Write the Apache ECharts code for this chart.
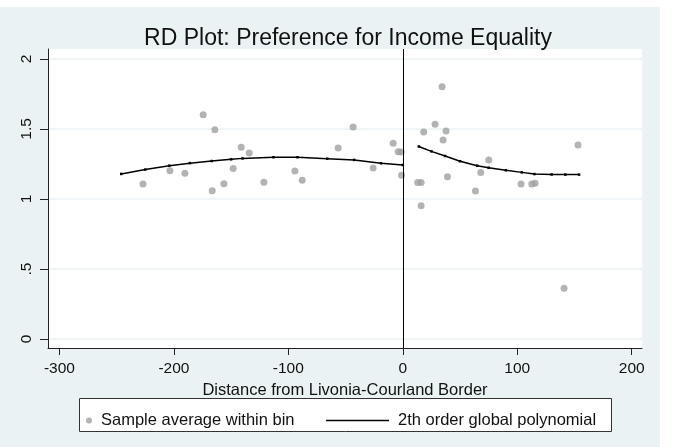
<!DOCTYPE html>
<html>
<head>
<meta charset="utf-8">
<script src="https://cdn.jsdelivr.net/npm/echarts@6/dist/echarts.min.js"></script>
<style>
html,body{margin:0;padding:0;background:#ffffff;}
#chart{width:675px;height:447px;}
</style>
</head>
<body>
<div id="chart"></div>
<script>
// Bin averages (distance, preference)
const binX = [-227, -203.5, -190.4, -174.4, -164.2, -166.5, -156.3, -148.2, -141.2, -134.2, -121.4, -94.3, -87.9, -56.5, -43.4, -25.9, -8.4, -4, -1.5, -1.1,
              13, 16, 16, 18.3, 28.2, 34.3, 37.8, 35.2, 39, 63.5, 68.1, 75.1, 103.3, 112.7, 115.6, 153.1, 140.9];
const binY = [1.107, 1.202, 1.183, 1.602, 1.495, 1.059, 1.109, 1.217, 1.369, 1.329, 1.119, 1.2, 1.133, 1.364, 1.514, 1.221, 1.398, 1.338, 1.335, 1.169,
              1.117, 1.117, 0.952, 1.479, 1.533, 1.802, 1.486, 1.421, 1.159, 1.057, 1.19, 1.279, 1.107, 1.107, 1.112, 1.386, 0.362];
// Fitted polynomial, left of border
const fitLeftX = [-246, -225, -204, -186, -167, -150, -140, -113, -92, -66, -42.5, -19, 0];
const fitLeftY = [1.179, 1.21, 1.238, 1.256, 1.271, 1.283, 1.29, 1.298, 1.298, 1.288, 1.279, 1.255, 1.243];
// Fitted polynomial, right of border
const fitRightX = [14, 25, 37, 50, 65, 75, 90, 104, 115, 130, 142, 154];
const fitRightY = [1.375, 1.34, 1.307, 1.27, 1.238, 1.223, 1.205, 1.19, 1.178, 1.175, 1.174, 1.174];
// Axis ticks
const xTicks = [-300, -200, -100, 0, 100, 200];
const yTicks = [0, 0.5, 1, 1.5, 2];
const yTickLabels = ['0', '.5', '1', '1.5', '2'];
const cutoff = 0;

const titleText = 'RD Plot: Preference for Income Equality';
const xName = 'Distance from Livonia-Courland Border';
const scatterName = 'Sample average within bin';
const lineName = '2th order global polynomial';

const zip = (a, b) => a.map((v, i) => [v, b[i]]);
const FONT = '"Liberation Sans", Arial, sans-serif';
const BG = '#EAF2F3';

const chart = echarts.init(document.getElementById('chart'), null, {renderer: 'canvas'});
chart.setOption({
  animation: false,
  backgroundColor: '#ffffff',
  textStyle: {fontFamily: FONT},
  graphic: [
    {type: 'rect', z: -100, silent: true, shape: {x: 0, y: 7, width: 660, height: 440}, style: {fill: BG}},
    {type: 'rect', z: 3, silent: true, shape: {x: 79.5, y: 398.5, width: 532, height: 33}, style: {fill: '#ffffff', stroke: '#333333', lineWidth: 1}}
  ],
  title: {
    text: titleText,
    left: 343,
    textAlign: 'center',
    top: 22,
    textStyle: {fontFamily: FONT, fontSize: 23, fontWeight: 'normal', color: '#111111'}
  },
  grid: {
    left: 48, right: 33, top: 49, bottom: 99,
    show: true, backgroundColor: '#ffffff', borderWidth: 0
  },
  legend: [
    {
      data: [{name: scatterName, icon: 'circle'}],
      left: 86, top: 412, padding: 0, itemWidth: 6, itemHeight: 6,
      textStyle: {fontFamily: FONT, fontSize: 16.5, color: '#111', padding: [0, 0, 0, 4]},
      selectedMode: false
    },
    {
      data: [{name: lineName, icon: 'rect'}],
      left: 326, top: 412, padding: 0, itemWidth: 63, itemHeight: 1.3,
      itemStyle: {color: '#000'},
      textStyle: {fontFamily: FONT, fontSize: 16.5, color: '#111', padding: [0, 0, 0, 4]},
      selectedMode: false
    }
  ],
  xAxis: {
    type: 'value', min: -310, max: 209,
    name: xName, nameLocation: 'middle', nameGap: 28,
    nameTextStyle: {fontFamily: FONT, fontSize: 16.5, color: '#111'},
    axisLine: {show: true, onZero: false, lineStyle: {color: '#222', width: 1}},
    axisTick: {show: true, length: 7, customValues: xTicks, lineStyle: {color: '#222'}},
    axisLabel: {customValues: xTicks, margin: 13, fontFamily: FONT, fontSize: 15.5, color: '#111'},
    splitLine: {show: false}
  },
  yAxis: {
    type: 'value', min: -0.064, max: 2.071,
    axisLine: {show: true, onZero: false, lineStyle: {color: '#222', width: 1}},
    axisTick: {show: true, length: 8, customValues: yTicks, lineStyle: {color: '#222'}},
    axisLabel: {
      customValues: yTicks, rotate: 90, margin: 13, fontFamily: FONT, fontSize: 15.5, color: '#111',
      formatter: v => { const i = yTicks.indexOf(v); return i >= 0 ? yTickLabels[i] : ''; }
    },
    splitLine: {show: true, lineStyle: {color: BG, width: 1.5}}
  },
  series: [
    {
      name: scatterName, type: 'scatter', data: zip(binX, binY),
      symbol: 'circle', symbolSize: 7, itemStyle: {color: '#A0A0A0'}, z: 3,
      markLine: {
        silent: true, symbol: ['none', 'none'], label: {show: false},
        lineStyle: {color: '#000', width: 1, type: 'solid'},
        data: [{xAxis: cutoff}]
      }
    },
    {
      name: lineName, type: 'line', data: zip(fitLeftX, fitLeftY),
      showSymbol: true, symbol: 'rect', symbolSize: 2.5,
      lineStyle: {color: '#000', width: 1.5}, itemStyle: {color: '#000'}, z: 4
    },
    {
      name: lineName, type: 'line', data: zip(fitRightX, fitRightY),
      showSymbol: true, symbol: 'rect', symbolSize: 2.5,
      lineStyle: {color: '#000', width: 1.5}, itemStyle: {color: '#000'}, z: 4
    }
  ]
});
</script>
</body>
</html>
